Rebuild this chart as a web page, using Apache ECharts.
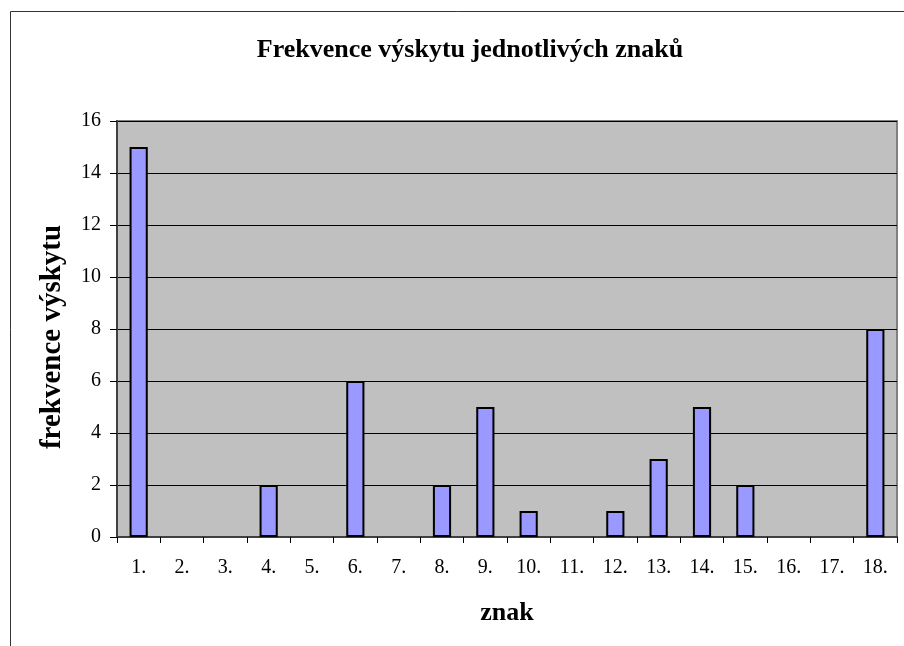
<!DOCTYPE html>
<html>
<head>
<meta charset="utf-8">
<script src="https://cdn.jsdelivr.net/npm/echarts@6/dist/echarts.min.js"></script>
<style>
  html, body { margin: 0; padding: 0; background: #fff; }
  #chart { width: 904px; height: 646px; }
</style>
</head>
<body>
<div id="chart"></div>
<script>
    // data
    var znaky = ['1.', '2.', '3.', '4.', '5.', '6.', '7.', '8.', '9.', '10.', '11.', '12.', '13.', '14.', '15.', '16.', '17.', '18.'];
    var frekvence = [15, 0, 0, 2, 0, 6, 0, 2, 5, 1, 0, 1, 3, 5, 2, 0, 0, 8];
    var titulek = 'Frekvence výskytu jednotlivých znaků';
    var osaX = 'znak';
    var osaY = 'frekvence výskytu';

    var serif = '"Liberation Serif", "DejaVu Serif", serif';
    var chart = echarts.init(document.getElementById('chart'));

    // zero bars get no border, otherwise echarts draws a flat line
    var barData = [];
    for (var i = 0; i < frekvence.length; i++) {
        if (frekvence[i] === 0) {
            barData.push({value: 0, itemStyle: {borderWidth: 0}});
        } else {
            barData.push(frekvence[i]);
        }
    }

    var option = {
        animation: false,
        backgroundColor: '#fff',
        textStyle: {fontFamily: serif},
        // outer frame of the chart object
        graphic: [{
            type: 'rect',
            shape: {x: 10.5, y: 11.5, width: 1000, height: 1000},
            style: {fill: 'none', stroke: '#333', lineWidth: 1},
            silent: true
        }],
        title: {
            text: titulek,
            left: 465,
            top: 32,
            textAlign: 'center',
            textStyle: {fontFamily: serif, fontSize: 26, fontWeight: 'bold', color: '#000'}
        },
        grid: {
            left: 117,
            top: 121,
            right: 7,
            bottom: 109,
            show: true,
            backgroundColor: '#c0c0c0',
            borderColor: '#808080',
            borderWidth: 2
        },
        xAxis: {
            type: 'category',
            data: znaky,
            name: osaX,
            nameLocation: 'middle',
            nameGap: 63,
            nameTextStyle: {fontFamily: serif, fontSize: 26, fontWeight: 'bold', color: '#000'},
            axisLine: {lineStyle: {color: '#404040', width: 2}},
            axisTick: {show: true, alignWithLabel: false, length: 6, lineStyle: {color: '#000', width: 1}},
            axisLabel: {fontFamily: serif, fontSize: 20, color: '#000', margin: 21, interval: 0}
        },
        yAxis: {
            type: 'value',
            min: 0,
            max: 16,
            interval: 2,
            name: osaY,
            nameLocation: 'middle',
            nameGap: 50,
            nameRotate: 90,
            nameTextStyle: {fontFamily: serif, fontSize: 29, fontWeight: 'bold', color: '#000', padding: [0, 16, 0, 0]},
            axisLine: {show: true, lineStyle: {color: '#404040', width: 2}},
            axisTick: {show: true, length: 7, lineStyle: {color: '#000', width: 1}},
            axisLabel: {fontFamily: serif, fontSize: 20, color: '#000', margin: 16},
            splitLine: {show: true, lineStyle: {color: '#000', width: 1}}
        },
        series: [{
            type: 'bar',
            data: barData,
            barWidth: '42%',
            itemStyle: {color: '#9999ff', borderColor: '#000', borderWidth: 2}
        }]
    };

    chart.setOption(option);
</script>
</body>
</html>
